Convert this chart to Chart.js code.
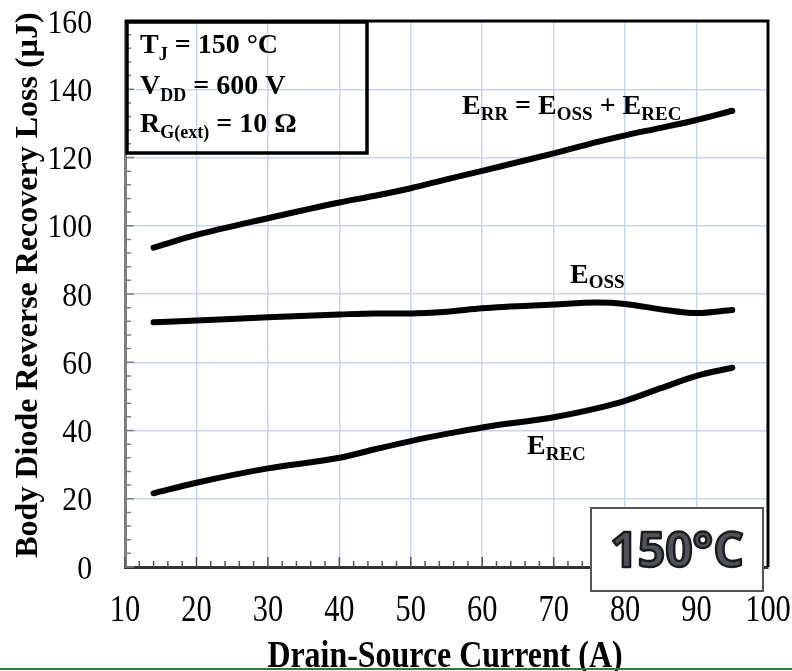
<!DOCTYPE html>
<html>
<head>
<meta charset="utf-8">
<script src="https://cdn.jsdelivr.net/npm/chart.js@4/dist/chart.umd.min.js"></script>
<style>
  html, body { margin: 0; padding: 0; background: #fff; }
  #wrap { width: 792px; height: 671px; position: relative; }
</style>
</head>
<body>
<div id="wrap"><canvas id="c" width="792" height="671"></canvas></div>
<script>
// Drain-source current (A) at which each loss was taken
const current = [14, 20, 30, 40, 45, 50, 55, 60, 70, 76, 80, 85, 90, 95];
// Body diode reverse recovery losses (µJ)
const eRR  = [93.6, 97.3, 102.2, 106.8, 108.8, 111.0, 113.6, 116.1, 121.2, 124.5, 126.5, 128.7, 131.0, 133.7];
const eOSS = [71.7, 72.2, 73.2, 74.0, 74.3, 74.3, 74.8, 75.8, 76.9, 77.5, 77.1, 75.5, 74.4, 75.3];
const eREC = [21.6, 24.7, 28.9, 32.0, 34.5, 36.9, 39.0, 40.9, 43.9, 46.5, 48.7, 52.4, 56.0, 58.4];
// Axis tick labels
const xTickValues = [10, 20, 30, 40, 50, 60, 70, 80, 90, 100];
const yTickValues = [0, 20, 40, 60, 80, 100, 120, 140, 160];
// Axis titles
const xTitle = 'Drain-Source Current (A)';
const yTitle = 'Body Diode Reverse Recovery Loss (µJ)';

const SERIF = '"Liberation Serif", "Times New Roman", serif';

function pts(ys) { return current.map((x, i) => ({ x, y: ys[i] })); }

function curve(label, ys) {
  return {
    label, data: pts(ys),
    borderColor: '#000', borderWidth: 6, borderCapStyle: 'round', borderJoinStyle: 'round',
    pointRadius: 0, cubicInterpolationMode: 'monotone', fill: false
  };
}

// Draws text with subscript runs: parts = [[text, isSub], ...]
function richText(ctx, x, y, parts, size, subSize, subDrop) {
  let cx = x;
  for (const [t, sub] of parts) {
    ctx.font = 'bold ' + (sub ? subSize : size) + 'px ' + SERIF;
    ctx.fillText(t, cx, y + (sub ? subDrop : 0));
    cx += ctx.measureText(t).width;
  }
}

// Narrow (horizontally condensed) text
function narrowText(ctx, text, x, y, sx) {
  ctx.save();
  ctx.translate(x, y);
  ctx.scale(sx, 1);
  ctx.fillText(text, 0, 0);
  ctx.restore();
}

// keep the plot frame fixed: no extra room reserved for overhanging tick labels
function noLabelOverhang(s) {
  s.paddingTop = 0; s.paddingBottom = 0; s.paddingLeft = 0; s.paddingRight = 0;
}

const decorations = {
  id: 'decorations',
  afterDatasetsDraw(chart) {
    const { ctx, chartArea: a, scales: { x, y } } = chart;
    ctx.save();
    // inward tick marks on the y axis (major every 20, minor every 4)
    ctx.strokeStyle = '#7f7f7f';
    ctx.lineWidth = 1.5;
    ctx.beginPath();
    for (let v = 0; v <= 160; v += 4) {
      const py = y.getPixelForValue(v);
      const len = v % 20 === 0 ? 9 : 6;
      ctx.moveTo(a.left, py); ctx.lineTo(a.left + len, py);
    }
    ctx.stroke();
    // inward tick marks on the x axis (major every 10, minor every 2)
    ctx.strokeStyle = '#555';
    ctx.beginPath();
    for (let v = 10; v <= 100; v += 2) {
      const px = x.getPixelForValue(v);
      const len = v % 10 === 0 ? 10 : 6;
      ctx.moveTo(px, a.bottom); ctx.lineTo(px, a.bottom - len);
    }
    ctx.stroke();
    // top and right frame
    ctx.strokeStyle = '#000';
    ctx.lineWidth = 3;
    ctx.beginPath();
    ctx.moveTo(a.left, a.top); ctx.lineTo(a.right, a.top); ctx.lineTo(a.right, a.bottom);
    ctx.stroke();
    ctx.restore();
  },
  afterDraw(chart) {
    const { ctx, chartArea: a, scales: { x, y } } = chart;
    ctx.save();
    ctx.fillStyle = '#000';
    ctx.textBaseline = 'alphabetic';

    // tick labels
    ctx.font = '38px ' + SERIF;
    ctx.textAlign = 'center';
    for (const v of xTickValues) narrowText(ctx, String(v), x.getPixelForValue(v), a.bottom + 54, 0.8);
    ctx.font = '33px ' + SERIF;
    ctx.textAlign = 'right';
    for (const v of yTickValues) narrowText(ctx, String(v), 92, y.getPixelForValue(v) + 11.5, 0.9);

    // axis titles
    ctx.font = 'bold 38px ' + SERIF;
    ctx.textAlign = 'center';
    narrowText(ctx, xTitle, 445, 667, 0.84);
    ctx.save();
    ctx.translate(37, 285);
    ctx.rotate(-Math.PI / 2);
    ctx.font = 'bold 32px ' + SERIF;
    ctx.fillText(yTitle, 0, 0);
    ctx.restore();

    ctx.textAlign = 'left';
    // test-condition box
    ctx.strokeStyle = '#000';
    ctx.lineWidth = 3.5;
    ctx.strokeRect(a.left + 2, a.top + 1, 240, 131);
    richText(ctx, 140, 53, [['T', false], ['J', true], [' = 150 °C', false]], 28, 18, 7);
    richText(ctx, 140, 94, [['V', false], ['DD', true], [' = 600 V', false]], 28, 18, 7);
    richText(ctx, 140, 132, [['R', false], ['G(ext)', true], [' = 10 Ω', false]], 28, 18, 6);

    // curve labels
    richText(ctx, 462, 114, [['E', false], ['RR', true], [' = E', false], ['OSS', true], [' + E', false], ['REC', true]], 28, 19, 6);
    richText(ctx, 570, 283, [['E', false], ['OSS', true]], 28, 19, 5);
    richText(ctx, 527, 454, [['E', false], ['REC', true]], 28, 19, 6);

    // temperature badge
    ctx.fillStyle = '#fff';
    ctx.fillRect(591, 508, 172, 83);
    ctx.strokeStyle = '#555';
    ctx.lineWidth = 2;
    ctx.strokeRect(591, 508, 172, 83);
    ctx.font = 'bold 48px "Open Sans", Lato, sans-serif';
    ctx.textAlign = 'center';
    ctx.lineJoin = 'round';
    ctx.lineWidth = 2.5;
    ctx.strokeStyle = '#1c1c1c';
    ctx.fillStyle = '#50545a';
    ctx.fillText('150°C', 677, 567);
    ctx.strokeText('150°C', 677, 567);

    // green rule along the bottom edge
    ctx.fillStyle = '#2e7d32';
    ctx.fillRect(0, 668, 792, 2);
    ctx.restore();
  }
};

new Chart(document.getElementById('c'), {
  type: 'line',
  data: {
    datasets: [
      curve('ERR', eRR),
      curve('EOSS', eOSS),
      curve('EREC', eREC)
    ]
  },
  options: {
    responsive: false,
    animation: false,
    layout: { padding: { top: 21, right: 24, left: 0, bottom: 0 } },
    plugins: { legend: { display: false }, tooltip: { enabled: false } },
    scales: {
      x: {
        type: 'linear', min: 10, max: 100,
        afterBuildTicks: s => { s.ticks = xTickValues.map(v => ({ value: v })); },
        afterFit: s => { s.height = 104; noLabelOverhang(s); },
        ticks: { display: false },
        grid: { color: '#c8d7f0', lineWidth: 1.5, drawTicks: false },
        border: { color: '#333', width: 3 },
        title: { display: false }
      },
      y: {
        type: 'linear', min: 0, max: 160,
        afterBuildTicks: s => { s.ticks = yTickValues.map(v => ({ value: v })); },
        afterFit: s => { s.width = 125; noLabelOverhang(s); },
        ticks: { display: false },
        grid: { color: '#c8d7f0', lineWidth: 1.5, drawTicks: false },
        border: { color: '#7f7f7f', width: 3 },
        title: { display: false }
      }
    }
  },
  plugins: [decorations]
});
</script>
</body>
</html>
